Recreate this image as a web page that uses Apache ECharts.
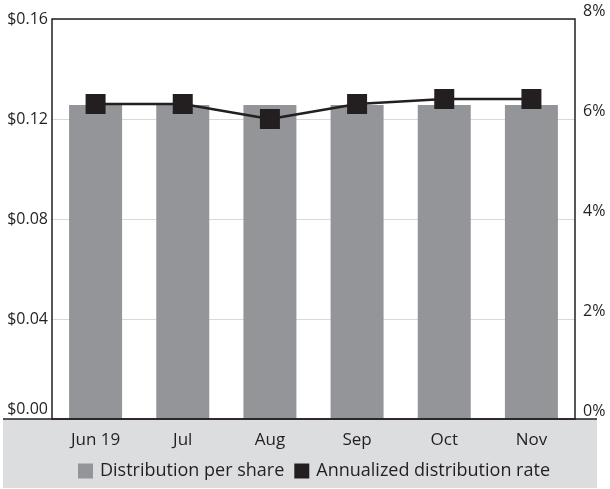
<!DOCTYPE html>
<html>
<head>
<meta charset="utf-8">
<script src="https://cdn.jsdelivr.net/npm/echarts@6/dist/echarts.min.js"></script>
<style>html,body{margin:0;padding:0;background:#fff}#c{width:610px;height:489px}</style>
</head>
<body>
<div id="c"></div>
<script>
const categories = ['Jun 19', 'Jul', 'Aug', 'Sep', 'Oct', 'Nov'];
const distributionPerShare = [0.1256, 0.1256, 0.1256, 0.1256, 0.1256, 0.1256];
const annualizedRate = [6.3, 6.3, 6.0, 6.3, 6.4, 6.4];
const leftTicks = { min: 0, max: 0.16, interval: 0.04 };
const rightTicks = { min: 0, max: 8, interval: 2 };

const FONT = '"Open Sans", "DejaVu Sans", sans-serif';
const DARK = '#231f20';
const chart = echarts.init(document.getElementById('c'), null, { renderer: 'canvas' });
chart.setOption({
  animation: false,
  textStyle: { fontFamily: FONT },
  grid: { left: 52, right: 35, top: 19, bottom: 70, show: true, borderColor: DARK, borderWidth: 1.5, backgroundColor: 'transparent', z: 3 },
  graphic: [
    { type: 'rect', z: -10, shape: { x: 3, y: 419, width: 594, height: 69 }, style: { fill: '#dcdddf' } },
    { type: 'line', z: 10, shape: { x1: 3, y1: 419, x2: 597, y2: 419 }, style: { stroke: DARK, lineWidth: 1.5 } }
  ],
  legend: {
    left: 73, top: 457,
    itemWidth: 15, itemHeight: 15, itemGap: 10,
    icon: 'rect',
    textStyle: { fontFamily: FONT, fontSize: 18, color: DARK, padding: [0, 0, 0, 2] },
    data: [
      { name: 'Distribution per share', itemStyle: { color: '#939598' } },
      { name: 'Annualized distribution rate', itemStyle: { color: DARK } }
    ]
  },
  xAxis: {
    type: 'category', data: categories,
    axisLine: { show: false }, axisTick: { show: false },
    axisLabel: { fontFamily: FONT, fontSize: 17, color: DARK, margin: 13 }
  },
  yAxis: [
    {
      type: 'value', min: leftTicks.min, max: leftTicks.max, interval: leftTicks.interval,
      axisLine: { show: false }, axisTick: { show: false },
      splitLine: { show: true, lineStyle: { color: '#d9d9d9', width: 1 } },
      axisLabel: {
        fontFamily: FONT, fontSize: 16, color: DARK, margin: 4,
        formatter: v => v === 0 ? '{low|$0.00}' : '$' + v.toFixed(2),
        rich: { low: { fontFamily: FONT, fontSize: 16, color: DARK, padding: [0, 0, 20, 0] } }
      }
    },
    {
      type: 'value', min: rightTicks.min, max: rightTicks.max, interval: rightTicks.interval,
      axisLine: { show: false }, axisTick: { show: false }, splitLine: { show: false },
      axisLabel: { fontFamily: FONT, fontSize: 16, color: DARK, margin: 8, verticalAlign: 'bottom', formatter: '{value}%' }
    }
  ],
  series: [
    {
      name: 'Distribution per share', type: 'bar', data: distributionPerShare,
      barWidth: 53, itemStyle: { color: '#939598' }, z: 1
    },
    {
      name: 'Annualized distribution rate', type: 'line', yAxisIndex: 1, data: annualizedRate,
      symbol: 'rect', symbolSize: 20, z: 5,
      lineStyle: { color: DARK, width: 2.5 }, itemStyle: { color: DARK }
    }
  ]
});
</script>
</body>
</html>
